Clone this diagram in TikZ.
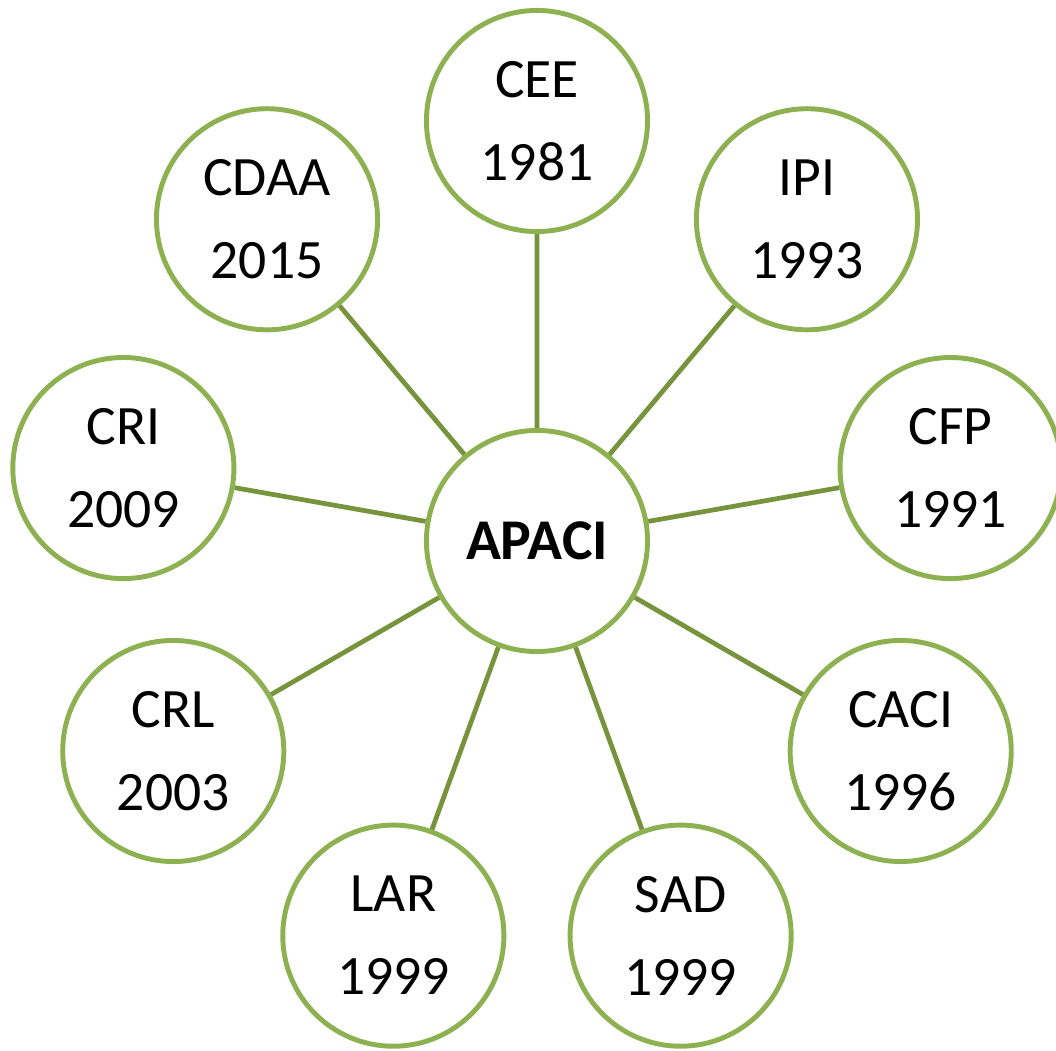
\documentclass[tikz,border=0pt]{standalone}
\usepackage{fontspec}
\setmainfont{Carlito}
\usepackage{tikz}
\usetikzlibrary{calc}
\definecolor{ringgreen}{RGB}{141,177,80}
\definecolor{spokegreen}{RGB}{119,147,60}

\begin{document}
\begin{tikzpicture}[x=0.01cm,y=0.01cm,
  unit/.style={circle,draw=ringgreen,line width=1.4pt,fill=white,
    minimum size=2.21cm,inner sep=0pt,align=center,
    font={\fontsize{15.8pt}{23.6pt}\selectfont}},
  spoke/.style={draw=spokegreen,line width=1.35pt}]
  \useasboundingbox (-537,-510) rectangle (519,541);
  \node[unit,font={\fontsize{16.4pt}{23.6pt}\selectfont\bfseries}] (apaci) at (0,0) {APACI};
  \node[unit] (cee) at (90:420) {CEE\\1981};
  \node[unit] (ipi) at (50:420) {IPI\\1993};
  \node[unit] (cfp) at (10:420) {CFP\\1991};
  \node[unit] (caci) at (-30:420) {CACI\\1996};
  \node[unit] (sad) at (-70:420) {SAD\\1999};
  \node[unit] (lar) at (-110:420) {LAR\\1999};
  \node[unit] (crl) at (-150:420) {CRL\\2003};
  \node[unit] (cri) at (170:420) {CRI\\2009};
  \node[unit] (cdaa) at (130:420) {CDAA\\2015};
  \path[spoke] (apaci)--(cee) (apaci)--(ipi) (apaci)--(cfp);
  \path[spoke] (apaci)--(caci) (apaci)--(sad) (apaci)--(lar);
  \path[spoke] (apaci)--(crl) (apaci)--(cri) (apaci)--(cdaa);
\end{tikzpicture}
\end{document}
